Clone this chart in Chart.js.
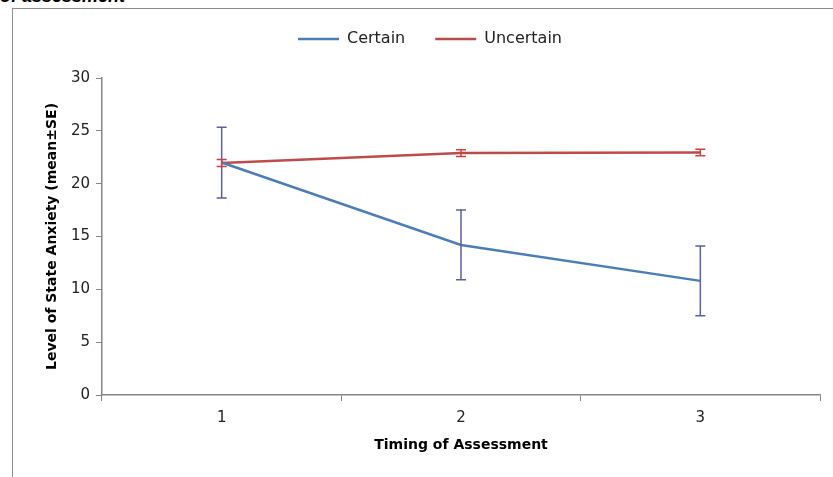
<!DOCTYPE html>
<html>
<head>
<meta charset="utf-8">
<script src="https://cdn.jsdelivr.net/npm/chart.js@4/dist/chart.umd.min.js"></script>
<style>
  html, body { margin: 0; padding: 0; background: #fff; overflow: hidden; }
  #frame { position: absolute; left: 12px; top: 8px; width: 900px; height: 500px;
           border-left: 1px solid #8c8c8c; border-top: 1px solid #8c8c8c; }
  #caption { position: absolute; left: 0; top: -14px; font: italic bold 18px "Liberation Sans", Arial, sans-serif; color: #000; }
  #chart { position: absolute; left: 0; top: 0; }
</style>
</head>
<body>
<div id="caption">of assessment</div>
<div id="frame"></div>
<canvas id="chart" width="833" height="477"></canvas>
<script>
// timing points and group means with standard errors
const timings = ['1', '2', '3'];
const certainMeans = [22.0, 14.2, 10.8];
const certainSE = [3.35, 3.3, 3.3];
const uncertainMeans = [21.95, 22.9, 22.95];
const uncertainSE = [0.33, 0.32, 0.3];
const yTicks = [0, 5, 10, 15, 20, 25, 30];

const tickFont = { family: 'DejaVu Sans', size: 15 };
const titleFont = { family: 'DejaVu Sans', size: 14, weight: 'bold' };

// draws mean +/- SE bars with caps on top of each line
const errorBars = {
  id: 'errorBars',
  afterDatasetsDraw(chart) {
    const ctx = chart.ctx;
    const y = chart.scales.y;
    chart.data.datasets.forEach((ds, i) => {
      const meta = chart.getDatasetMeta(i);
      ctx.save();
      ctx.strokeStyle = ds.errorColor;
      ctx.lineWidth = 1.5;
      meta.data.forEach((pt, j) => {
        const top = y.getPixelForValue(ds.data[j] + ds.errors[j]);
        const bot = y.getPixelForValue(ds.data[j] - ds.errors[j]);
        ctx.beginPath();
        ctx.moveTo(pt.x, top); ctx.lineTo(pt.x, bot);
        ctx.moveTo(pt.x - 5, top); ctx.lineTo(pt.x + 5, top);
        ctx.moveTo(pt.x - 5, bot); ctx.lineTo(pt.x + 5, bot);
        ctx.stroke();
      });
      ctx.restore();
    });
  }
};

// extra gap under the legend so it sits higher above the plot
const legendGap = {
  id: 'legendGap',
  beforeInit(chart) {
    const fit = chart.legend.fit;
    chart.legend.fit = function () {
      fit.bind(chart.legend)();
      this.height += 21;
    };
  }
};

new Chart(document.getElementById('chart'), {
  type: 'line',
  data: {
    labels: timings,
    datasets: [
      { label: 'Certain', data: certainMeans, errors: certainSE, borderColor: '#4a7ebb', backgroundColor: '#4a7ebb',
        errorColor: '#5c5fa0', borderWidth: 2.5, pointRadius: 0, tension: 0 },
      { label: 'Uncertain', data: uncertainMeans, errors: uncertainSE, borderColor: '#be4b48', backgroundColor: '#be4b48',
        errorColor: '#d4403e', borderWidth: 2.5, pointRadius: 0, tension: 0 }
    ]
  },
  options: {
    responsive: false,
    animation: false,
    layout: { padding: { left: 40, right: 13, top: 1, bottom: 20 } },
    plugins: {
      tooltip: { enabled: false },
      legend: {
        position: 'top',
        labels: { usePointStyle: true, pointStyle: 'line', pointStyleWidth: 41, color: '#222',
                  font: { family: 'DejaVu Sans', size: 16 }, padding: 30 }
      }
    },
    scales: {
      x: {
        offset: true,
        grid: { offset: true, drawOnChartArea: false, tickLength: 6, color: '#868686' },
        border: { color: '#868686', width: 1.5 },
        ticks: { color: '#222', font: tickFont, padding: 8 },
        title: { display: true, text: 'Timing of Assessment', color: '#000', font: titleFont, padding: { top: 4, bottom: 3 } },
        afterFit(scale) { scale.height = 62; }
      },
      y: {
        min: 0, max: 30,
        afterBuildTicks(scale) { scale.ticks = yTicks.map(v => ({ value: v })); },
        grid: { drawOnChartArea: false, tickLength: 6, color: '#868686' },
        border: { color: '#868686', width: 1.5 },
        ticks: { color: '#222', font: tickFont, padding: 6 },
        title: { display: true, text: 'Level of State Anxiety (mean±SE)', color: '#000', font: titleFont, padding: { top: 4, bottom: 4 } },
        afterFit(scale) { scale.width = 62; }
      }
    }
  },
  plugins: [errorBars, legendGap]
});
</script>
</body>
</html>
